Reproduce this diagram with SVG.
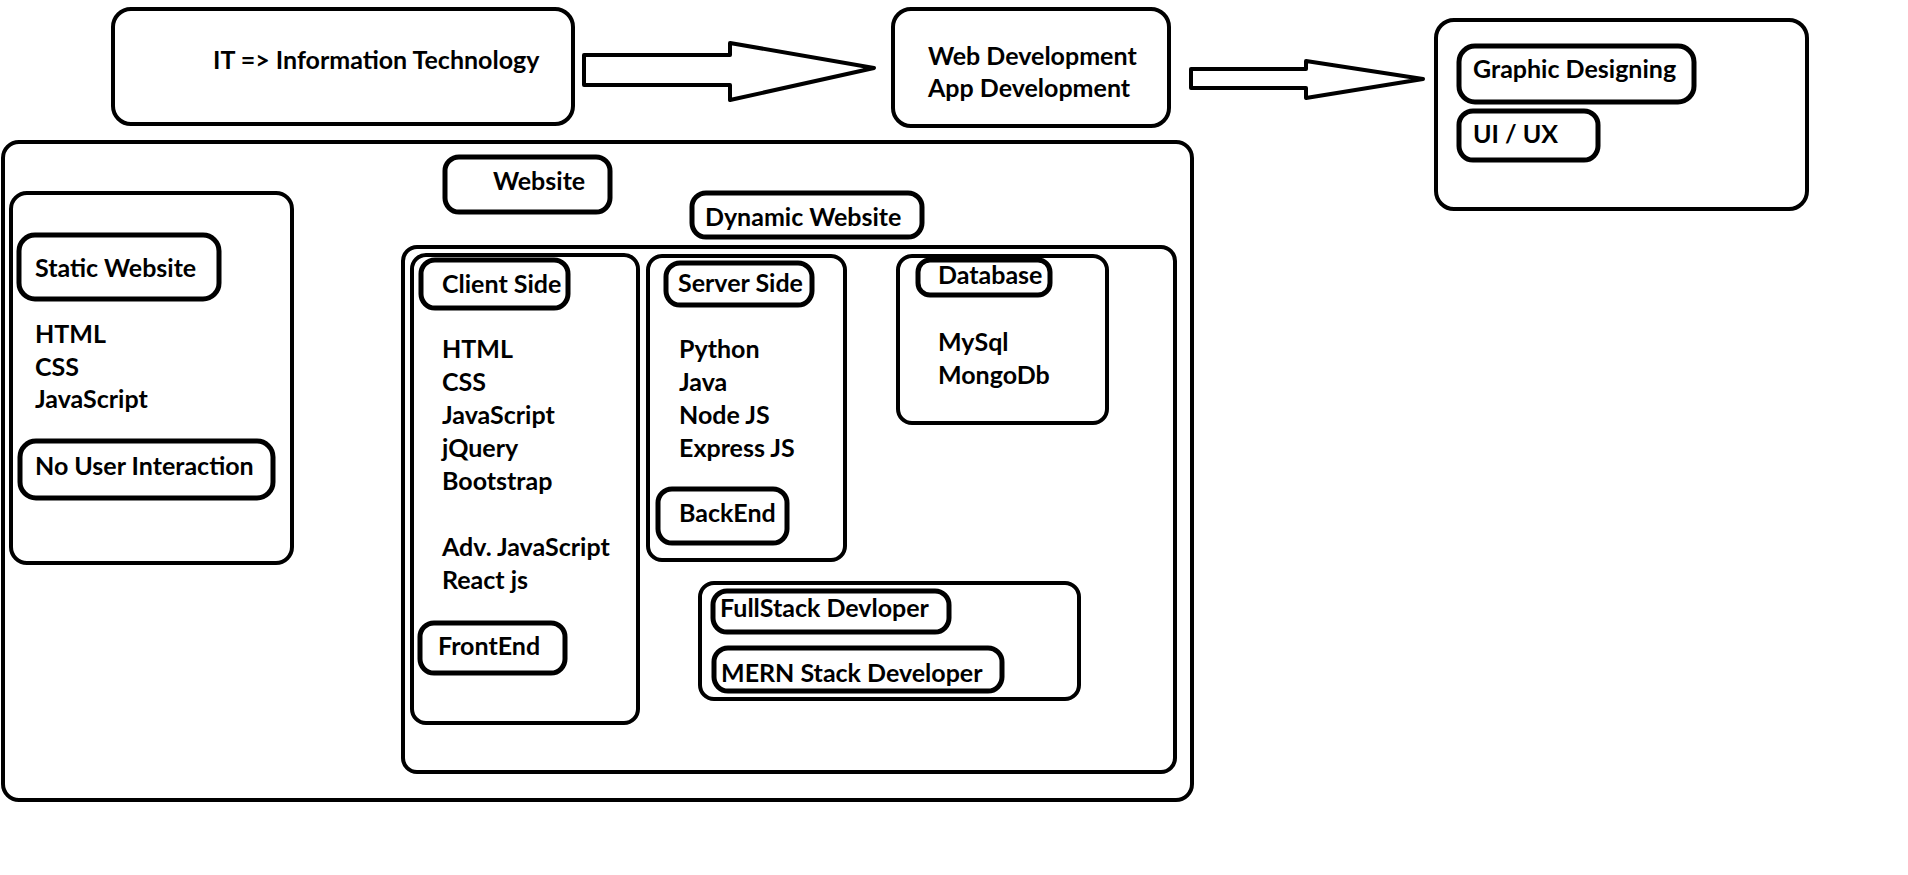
<svg xmlns="http://www.w3.org/2000/svg" width="1908" height="875" viewBox="0 0 1908 875">
<style>
.box{fill:none;stroke:#000;stroke-width:4}
.pill{fill:none;stroke:#000;stroke-width:5}
.arrow{fill:#fff;stroke:#000;stroke-width:4;stroke-linejoin:round}
text{font-family:Lato,"Open Sans","Liberation Sans",sans-serif;font-weight:bold;font-size:25px;fill:#000}
</style>
<rect x="0" y="0" width="1908" height="875" fill="#fff"/>
<g id="connectors">
<polygon class="arrow" points="584,55 730,55 730,43 874,68 730,100 730,85 584,85"/>
<polygon class="arrow" points="1191,69 1306,69 1306,61 1423,79 1306,98 1306,88 1191,88"/>
</g>
<g id="it">
<rect class="box" x="113" y="9" width="460" height="115" rx="18"/>
<text x="213" y="69">IT =&gt; Information Technology</text>
</g>
<g id="webdev">
<rect class="box" x="893" y="9" width="276" height="117" rx="18"/>
<text x="928" y="65">Web Development</text>
<text x="928" y="97">App Development</text>
</g>
<g id="design">
<rect class="box" x="1436" y="20" width="371" height="189" rx="18"/>
<g id="graphic"><rect class="pill" x="1459" y="46" width="235" height="56" rx="16"/><text x="1473" y="78">Graphic Designing</text></g>
<g id="uiux"><rect class="pill" x="1459" y="111" width="139" height="49" rx="14"/><text x="1473" y="143">UI / UX</text></g>
</g>
<g id="website-container">
<rect class="box" x="3" y="142" width="1189" height="658" rx="16"/>
</g>
<g id="website"><rect class="pill" x="445" y="157" width="165" height="55" rx="14"/><text x="493" y="190">Website</text></g>
<g id="dynamic"><rect class="pill" x="692" y="193" width="230" height="44" rx="14"/><text x="705" y="226">Dynamic Website</text></g>
<g id="static">
<rect class="box" x="11" y="193" width="281" height="370" rx="16"/>
<rect class="pill" x="19" y="235" width="200" height="64" rx="16"/>
<text x="35" y="277">Static Website</text>
<text x="35" y="343">HTML</text>
<text x="35" y="376">CSS</text>
<text x="35" y="408">JavaScript</text>
<rect class="pill" x="20" y="441" width="253" height="57" rx="16"/>
<text x="35" y="475">No User Interaction</text>
</g>
<g id="dynamic-container">
<rect class="box" x="403" y="247" width="772" height="525" rx="14"/>
</g>
<g id="client">
<rect class="box" x="412" y="255" width="226" height="468" rx="14"/>
<rect class="pill" x="421" y="260" width="147" height="48" rx="14"/>
<text x="442" y="293">Client Side</text>
<text x="442" y="358">HTML</text>
<text x="442" y="391">CSS</text>
<text x="442" y="424">JavaScript</text>
<text x="442" y="457">jQuery</text>
<text x="442" y="490">Bootstrap</text>
<text x="442" y="556">Adv. JavaScript</text>
<text x="442" y="589">React js</text>
<rect class="pill" x="420" y="623" width="145" height="50" rx="14"/>
<text x="438" y="655">FrontEnd</text>
</g>
<g id="server">
<rect class="box" x="648" y="256" width="197" height="304" rx="14"/>
<rect class="pill" x="666" y="263" width="146" height="42" rx="14"/>
<text x="678" y="292">Server Side</text>
<text x="679" y="358">Python</text>
<text x="679" y="391">Java</text>
<text x="679" y="424">Node JS</text>
<text x="679" y="457">Express JS</text>
<rect class="pill" x="658" y="489" width="129" height="54" rx="14"/>
<text x="679" y="522">BackEnd</text>
</g>
<g id="database">
<rect class="box" x="898" y="256" width="209" height="167" rx="14"/>
<rect class="pill" x="918" y="260" width="132" height="35" rx="12"/>
<text x="938" y="284">Database</text>
<text x="938" y="351">MySql</text>
<text x="938" y="384">MongoDb</text>
</g>
<g id="fullstack">
<rect class="box" x="700" y="583" width="379" height="116" rx="14"/>
<rect class="pill" x="713" y="591" width="236" height="41" rx="14"/>
<text x="720" y="617">FullStack Devloper</text>
<rect class="pill" x="714" y="648" width="288" height="43" rx="14"/>
<text x="721" y="682">MERN Stack Developer</text>
</g>
</svg>
